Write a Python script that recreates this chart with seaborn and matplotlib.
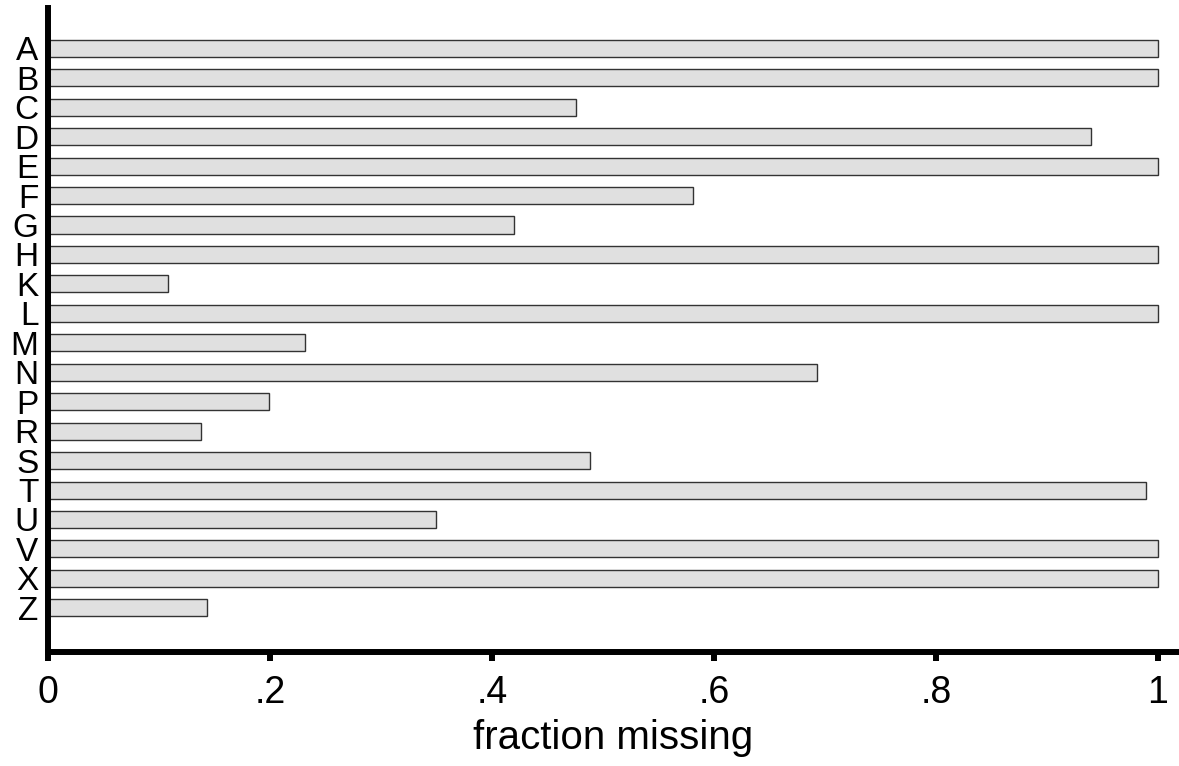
import pandas as pd
import seaborn as sns
from matplotlib import pyplot as plt

categories = ['A', 'B', 'C', 'D', 'E', 'F', 'G', 'H', 'K', 'L',
              'M', 'N', 'P', 'R', 'S', 'T', 'U', 'V', 'X', 'Z']
frac_missing = [1.0, 1.0, 0.476, 0.94, 1.0, 0.581, 0.42, 1.0, 0.108, 1.0,
                0.232, 0.693, 0.199, 0.138, 0.488, 0.989, 0.35, 1.0, 1.0, 0.143]
xticks = [0, 0.2, 0.4, 0.6, 0.8, 1.0]
xtick_labels = ['0', '.2', '.4', '.6', '.8', '1']

sns.set_style('white')
plt.rcParams['font.family'] = ['Liberation Sans', 'DejaVu Sans']
plt.rcParams['text.color'] = 'black'
plt.rcParams['axes.labelcolor'] = 'black'
plt.rcParams['xtick.color'] = 'black'
plt.rcParams['ytick.color'] = 'black'

df = pd.DataFrame({'cat': categories, 'frac': frac_missing})

fig = plt.figure(figsize=(11.79, 7.66), dpi=100)
ax = fig.add_axes([0.0407, 0.1488, 0.9593, 0.8408])
sns.barplot(data=df, x='frac', y='cat', order=categories, orient='h',
            color='#e0e0e0', edgecolor='#333333', linewidth=1.0,
            width=0.58, saturation=1, ax=ax)

ax.set_xlim(0, 1.019)
ax.set_ylim(20.5, -1.37)
ax.set_xticks(xticks)
ax.set_xticklabels(xtick_labels, fontsize=27)
ax.tick_params(axis='x', bottom=True, length=6.5, width=4.3, pad=10,
               color='black', labelcolor='black')
ax.tick_params(axis='y', left=False, length=0, pad=7, labelsize=24,
               labelcolor='black')
ax.set_ylabel('')
ax.set_xlabel('fraction missing', fontsize=29, labelpad=6, color='black')

for side in ['top', 'right']:
    ax.spines[side].set_visible(False)
for side in ['left', 'bottom']:
    ax.spines[side].set_linewidth(4.3)
    ax.spines[side].set_color('black')

fig.savefig('out.png', dpi=100)
